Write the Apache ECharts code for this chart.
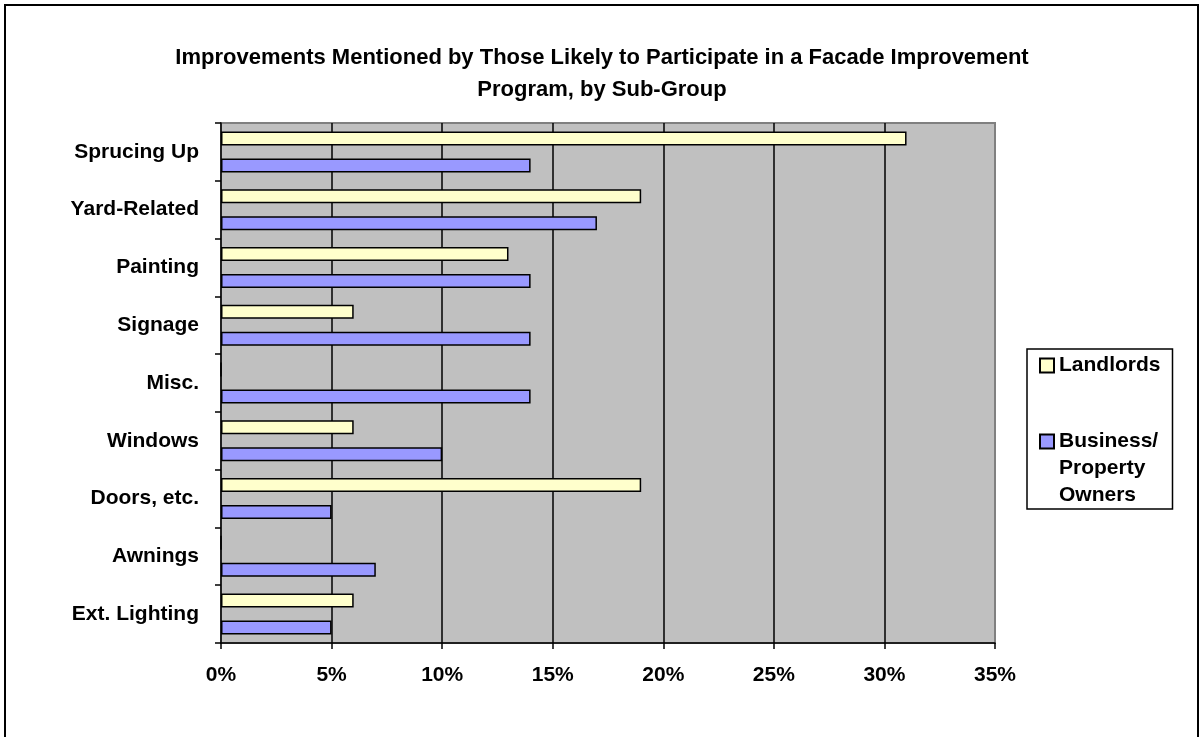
<!DOCTYPE html>
<html>
<head>
<meta charset="utf-8">
<title>Facade Improvement Program</title>
<script src="https://cdn.jsdelivr.net/npm/echarts@6/dist/echarts.min.js"></script>
<style>
  html, body { margin: 0; padding: 0; background: #ffffff; }
  #chart { width: 1204px; height: 737px; }
</style>
</head>
<body>
<div id="chart"></div>
<script>
// Improvement categories, top to bottom
const categories = ['Sprucing Up', 'Yard-Related', 'Painting', 'Signage', 'Misc.', 'Windows', 'Doors, etc.', 'Awnings', 'Ext. Lighting'];
// Share of respondents mentioning each improvement (%)
const landlords = [31, 19, 13, 6, 0, 6, 19, 0, 6];
const businessOwners = [14, 17, 14, 14, 14, 10, 5, 7, 5];
// Percentage axis
const axisMin = 0;
const axisMax = 35;
const axisStep = 5;

const seriesNames = ['Landlords', 'Business/ Property Owners'];
const font = '"Liberation Sans", Arial, sans-serif';

const chart = echarts.init(document.getElementById('chart'), null, { renderer: 'canvas' });

chart.setOption({
  backgroundColor: '#ffffff',
  animation: false,
  title: {
    text: 'Improvements Mentioned by Those Likely to Participate in a Facade Improvement\nProgram, by Sub-Group',
    left: 'center',
    top: 37,
    textStyle: {
      fontFamily: font,
      fontWeight: 'bold',
      fontSize: 22,
      lineHeight: 32,
      color: '#000000'
    }
  },
  legend: {
    orient: 'vertical',
    left: 1027,
    top: 349,
    padding: [3, 12, 0, 12],
    itemGap: -5,
    itemWidth: 14,
    itemHeight: 14,
    icon: 'rect',
    borderColor: '#000000',
    borderWidth: 1.5,
    backgroundColor: '#ffffff',
    data: [seriesNames[0], seriesNames[1]],
    // the multi-line entry keeps its swatch beside the first line
    formatter: function (name) {
      return name === seriesNames[1] ? ' \n \nBusiness/\nProperty\nOwners' : name;
    },
    textStyle: {
      fontFamily: font,
      fontWeight: 'bold',
      fontSize: 21,
      lineHeight: 27,
      color: '#000000'
    }
  },
  grid: {
    left: 221,
    right: 209,
    top: 123,
    bottom: 94,
    show: true,
    backgroundColor: '#C0C0C0',
    borderColor: '#808080',
    borderWidth: 2,
    containLabel: false
  },
  xAxis: {
    type: 'value',
    min: axisMin,
    max: axisMax,
    interval: axisStep,
    axisLine: { show: true, lineStyle: { color: '#000000', width: 1.5 } },
    axisTick: { show: true, length: 6, lineStyle: { color: '#000000', width: 1.5 } },
    axisLabel: {
      margin: 22,
      formatter: '{value}%',
      fontFamily: font,
      fontWeight: 'bold',
      fontSize: 21,
      color: '#000000'
    },
    splitLine: {
      show: true,
      showMinLine: false,
      showMaxLine: false,
      lineStyle: { color: '#000000', width: 1.5 }
    }
  },
  yAxis: {
    type: 'category',
    data: categories,
    inverse: true,
    axisLine: { show: true, lineStyle: { color: '#000000', width: 1.5 } },
    axisTick: { show: true, length: 6, alignWithLabel: false, lineStyle: { color: '#000000', width: 1.5 } },
    axisLabel: {
      margin: 22,
      fontFamily: font,
      fontWeight: 'bold',
      fontSize: 21,
      color: '#000000'
    },
    splitLine: { show: false }
  },
  series: [
    {
      name: seriesNames[0],
      type: 'bar',
      data: landlords,
      barWidth: 14,
      barGap: '93%',
      itemStyle: { color: '#FFFFCC', borderColor: '#000000', borderWidth: 1.5 }
    },
    {
      name: seriesNames[1],
      type: 'bar',
      data: businessOwners,
      barWidth: 14,
      barGap: '93%',
      itemStyle: { color: '#9999FF', borderColor: '#000000', borderWidth: 1.5 }
    }
  ],
  graphic: [
    {
      type: 'rect',
      silent: true,
      z: -1,
      shape: { x: 5, y: 5, width: 1193, height: 800 },
      style: { fill: 'none', stroke: '#000000', lineWidth: 2 }
    }
  ]
});
</script>
</body>
</html>
